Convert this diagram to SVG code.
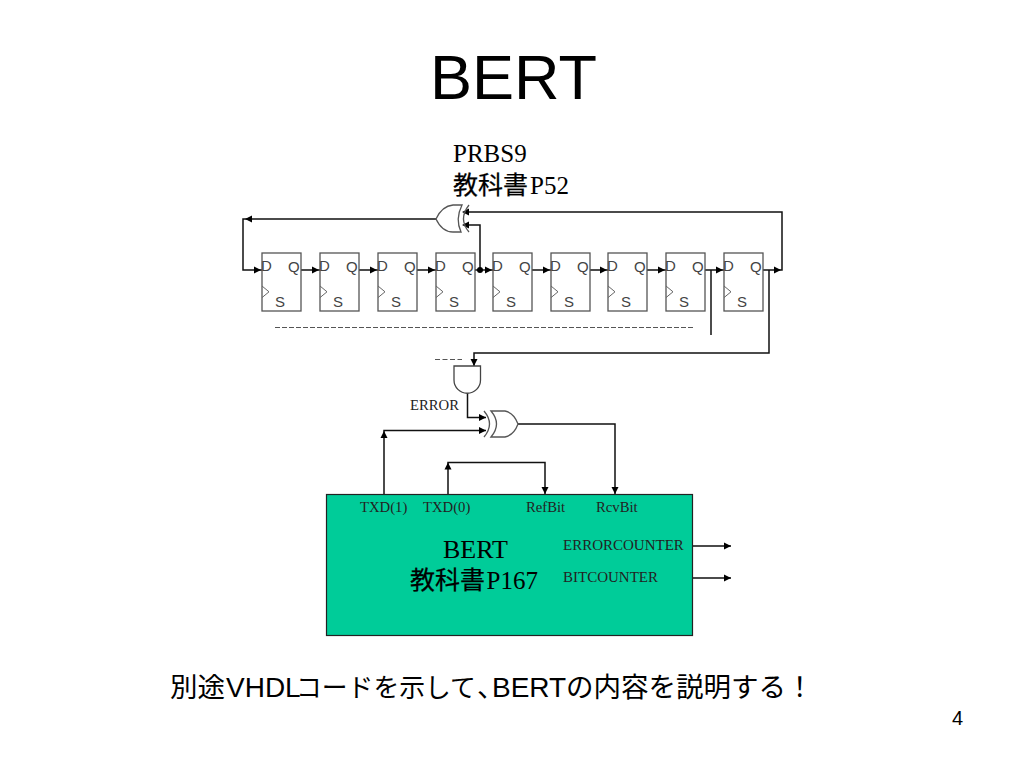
<svg xmlns="http://www.w3.org/2000/svg" xmlns:xlink="http://www.w3.org/1999/xlink" width="1024" height="768" viewBox="0 0 1024 768">
<style>
text{fill:#000}
.a{font-family:"Liberation Sans","Noto Sans CJK JP",sans-serif}
.t{font-family:"Liberation Serif","Noto Sans CJK JP",serif;font-size:25px}
.c{font-family:"Noto Sans CJK JP",sans-serif;stroke:#000;stroke-width:.25}
.s{font-family:"Liberation Serif",serif;font-size:14.700px;fill:#222}
.n{font-size:15px}
.g{font-family:"Liberation Sans",sans-serif;fill:#444;font-size:15px}
.ff{fill:#fff;stroke:#555;stroke-width:1.300}
.w{fill:none;stroke:#111;stroke-width:1.500}
.h{fill:#000}
.half{font-feature-settings:"halt"}
</style>
<defs>
<g id="flop">
<rect class="ff" x="0" y="0" width="39" height="58"/>
<text class="g" x="-1" y="17.500">D</text>
<path d="M0 33l7 5.800-7 5.800" fill="none" stroke="#666" stroke-width="1"/>
<text class="g" x="26" y="18.500">Q</text>
<text class="g" x="13" y="54">S</text>
</g>
<path id="ar" class="h" d="M-7 -3.500L0 0L-7 3.500z"/>
<path id="ad" class="h" d="M-3.500 -7L0 0L3.500 -7z"/>
</defs>
<rect width="1024" height="768" fill="#fff"/>
<text class="a" x="513.500" y="99" font-size="63" text-anchor="middle">BERT</text>
<text class="t" x="453" y="162">PRBS9</text>
<text class="t" y="194"><tspan class="c" x="453">教科書</tspan><tspan x="530">P52</tspan></text>

<g id="connectors">
<path class="w" d="M436 219H243V270H262"/>
<path class="w" d="M301 270H320M359 270H378M417 270H436M475 270H493M532 270H551M590 270H608M647 270H666M705 270H724M763 270H782V212H464"/>
<path class="w" d="M480 270V225H464"/>
<path class="w" d="M711 270V335"/>
<path class="w" d="M769 270V353H474V366"/>
<path d="M435 359.500H462" fill="none" stroke="#555" stroke-width="1.200" stroke-dasharray="5 2.500"/>
<path d="M275 327.500H693" fill="none" stroke="#555" stroke-width="1.200" stroke-dasharray="5 2"/>
<path class="w" d="M467.500 392V417.500H486"/>
<path class="w" d="M384 494V430.500H486"/>
<path class="w" d="M448 494V462.500H545V494"/>
<path class="w" d="M518 424H615V494"/>
<path class="w" d="M692 546H731M692 578H731"/>
<use xlink:href="#ar" x="245" y="219" transform="rotate(180 245 219)"/>
<use xlink:href="#ar" x="261" y="270"/><use xlink:href="#ar" x="319" y="270"/><use xlink:href="#ar" x="377" y="270"/><use xlink:href="#ar" x="435" y="270"/>
<use xlink:href="#ar" x="492" y="270"/><use xlink:href="#ar" x="550" y="270"/><use xlink:href="#ar" x="607" y="270"/><use xlink:href="#ar" x="665" y="270"/><use xlink:href="#ar" x="723" y="270"/><use xlink:href="#ar" x="781" y="270"/>
<use xlink:href="#ar" x="462" y="212" transform="rotate(180 462 212)"/>
<use xlink:href="#ar" x="462" y="225" transform="rotate(180 462 225)"/>
<circle class="h" cx="480" cy="270" r="3"/>
<use xlink:href="#ad" x="474" y="366"/>
<use xlink:href="#ar" x="486" y="417.500"/><use xlink:href="#ar" x="486" y="430.500"/>
<use xlink:href="#ad" x="384" y="431" transform="rotate(180 384 431)"/>
<use xlink:href="#ad" x="448" y="462.500" transform="rotate(180 448 462.500)"/>
<use xlink:href="#ad" x="545" y="494"/><use xlink:href="#ad" x="615" y="494"/>
<use xlink:href="#ar" x="731" y="546"/><use xlink:href="#ar" x="731" y="578"/>
</g>

<g id="ff1"><use xlink:href="#flop" x="262" y="253"/></g>
<g id="ff2"><use xlink:href="#flop" x="320" y="253"/></g>
<g id="ff3"><use xlink:href="#flop" x="378" y="253"/></g>
<g id="ff4"><use xlink:href="#flop" x="436" y="253"/></g>
<g id="ff5"><use xlink:href="#flop" x="493" y="253"/></g>
<g id="ff6"><use xlink:href="#flop" x="551" y="253"/></g>
<g id="ff7"><use xlink:href="#flop" x="608" y="253"/></g>
<g id="ff8"><use xlink:href="#flop" x="666" y="253"/></g>
<g id="ff9"><use xlink:href="#flop" x="724" y="253"/></g>

<g id="xor-top" fill="none" stroke="#555" stroke-width="1.300">
<path d="M436 219Q442 206 453 205H462Q455 219 461 232H453Q442 232 436 219Z" fill="#fff"/>
<path d="M469 205Q458 219 469 232"/>
</g>
<g id="and-gate"><path d="M454 366H480.500V380A13 13 0 0 1 454 380Z" fill="#fff" stroke="#444" stroke-width="1.300"/></g>
<g id="xor-bottom" fill="none" stroke="#555" stroke-width="1.300">
<path d="M491 411Q502 424 491 437H505Q514 435 518 424Q514 413 505 411Z" fill="#fff"/>
<path d="M484 411Q495 424 484 437"/>
</g>
<text class="s" x="410" y="410">ERROR</text>

<g id="bert">
<rect x="326.500" y="494.500" width="366" height="141" fill="#00cc99" stroke="#222" stroke-width="1.200"/>
<text class="s" x="360" y="512">TXD(1)</text>
<text class="s" x="423" y="512">TXD(0)</text>
<text class="s" x="526" y="512">RefBit</text>
<text class="s" x="596" y="512">RcvBit</text>
<text class="t" x="443" y="558" style="font-size:26px">BERT</text>
<text class="t" y="589"><tspan class="c" x="410">教科書</tspan><tspan x="486.500">P167</tspan></text>
<text class="s n" x="563" y="550">ERRORCOUNTER</text>
<text class="s n" x="563" y="582">BITCOUNTER</text>
</g>
<text class="a" y="697" font-size="27.500"><tspan x="170">別途</tspan><tspan x="226" font-size="28">VHDL</tspan><tspan x="296" font-size="25.800">コードを示して</tspan><tspan class="half" x="477">、</tspan><tspan x="492" font-size="28">BERT</tspan><tspan x="566">の内容を説明する！</tspan></text>
<text class="a" x="952" y="725" font-size="20">4</text>
</svg>
